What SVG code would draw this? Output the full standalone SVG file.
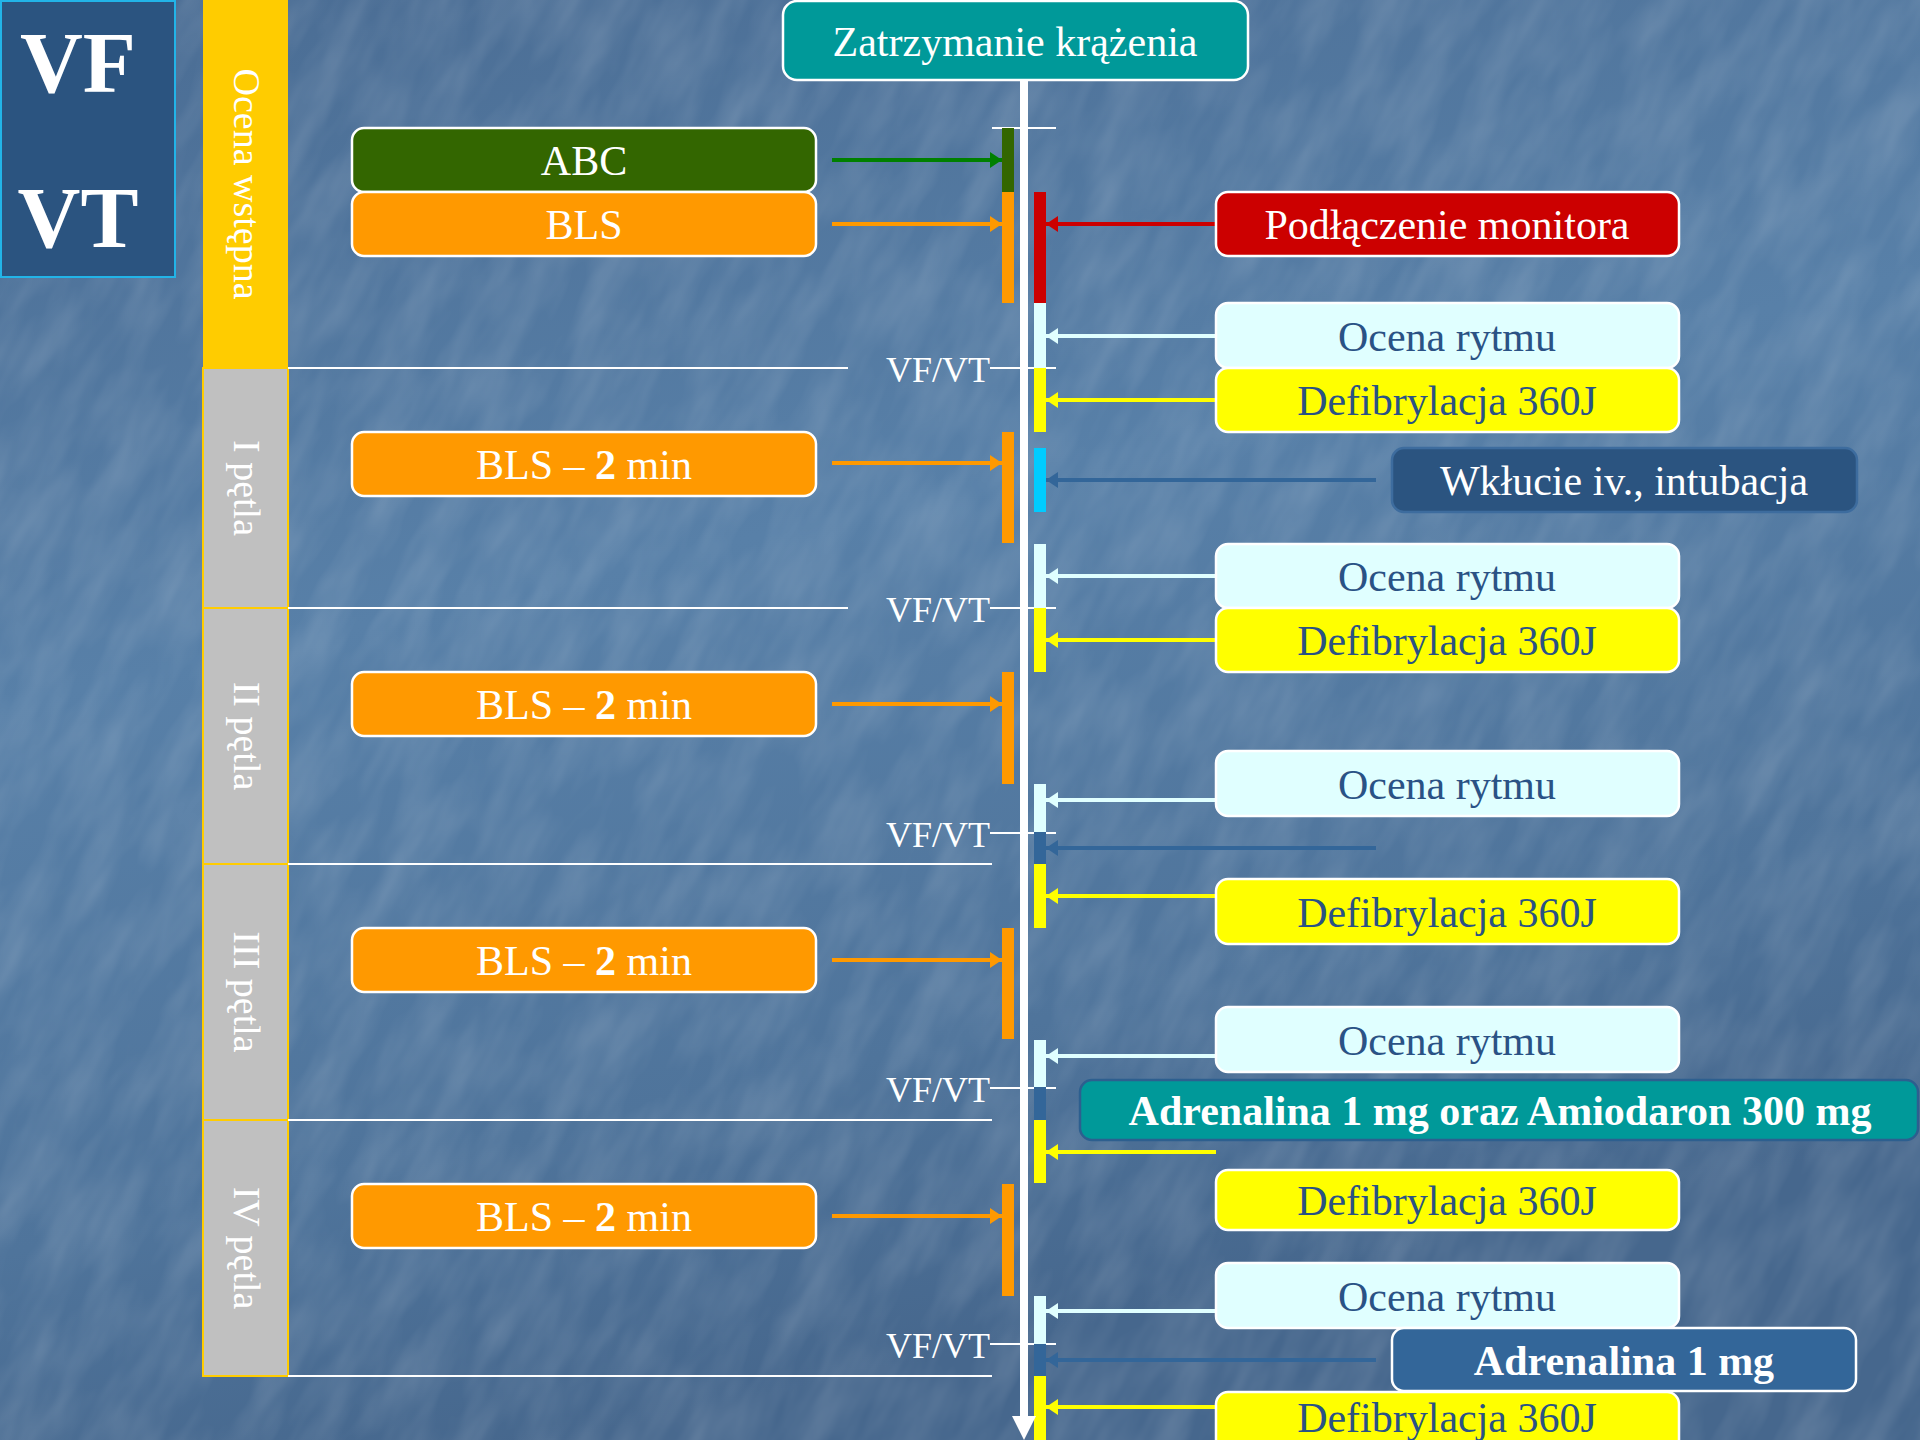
<svg xmlns="http://www.w3.org/2000/svg" width="1920" height="1440" viewBox="0 0 1920 1440">
<defs>
<linearGradient id="bg" x1="0" y1="0" x2="0.3" y2="1">
<stop offset="0" stop-color="#4a6c93"/>
<stop offset="0.45" stop-color="#5880a8"/>
<stop offset="0.8" stop-color="#4f749b"/>
<stop offset="1" stop-color="#46678d"/>
</linearGradient>
<filter id="tex" x="0" y="0" width="100%" height="100%">
<feTurbulence type="fractalNoise" baseFrequency="0.01 0.032" numOctaves="3" seed="7"/>
<feColorMatrix type="matrix" values="0 0 0 0 1  0 0 0 0 1  0 0 0 0 1  0 0 0 0.22 -0.07"/>
</filter>
<marker id="aG" markerUnits="userSpaceOnUse" markerWidth="12" markerHeight="16" refX="12" refY="8" orient="auto"><path d="M0,0 L12,8 L0,16 z" fill="#008000"/></marker>
<marker id="aO" markerUnits="userSpaceOnUse" markerWidth="12" markerHeight="16" refX="12" refY="8" orient="auto"><path d="M0,0 L12,8 L0,16 z" fill="#ff9900"/></marker>
<marker id="aR" markerUnits="userSpaceOnUse" markerWidth="12" markerHeight="16" refX="12" refY="8" orient="auto"><path d="M0,0 L12,8 L0,16 z" fill="#cc0000"/></marker>
<marker id="aC" markerUnits="userSpaceOnUse" markerWidth="12" markerHeight="16" refX="12" refY="8" orient="auto"><path d="M0,0 L12,8 L0,16 z" fill="#e0ffff"/></marker>
<marker id="aY" markerUnits="userSpaceOnUse" markerWidth="12" markerHeight="16" refX="12" refY="8" orient="auto"><path d="M0,0 L12,8 L0,16 z" fill="#ffff00"/></marker>
<marker id="aB" markerUnits="userSpaceOnUse" markerWidth="12" markerHeight="16" refX="12" refY="8" orient="auto"><path d="M0,0 L12,8 L0,16 z" fill="#336699"/></marker>
</defs>
<style>
text{font-family:"Liberation Serif","Times New Roman",serif;}
.box{stroke:#ffffff;stroke-width:2.5;}
.t{font-size:42px;text-anchor:middle;}
.w{fill:#ffffff;}
.d{fill:#2a5285;}
.b{font-weight:bold;}
.lbl{font-size:36px;fill:#ffffff;text-anchor:end;}
.side{font-size:38px;fill:#ffffff;text-anchor:middle;}
.sep{stroke:#ffffff;stroke-width:2;fill:none;}
.arr{stroke-width:4;fill:none;}
</style>
<rect width="1920" height="1440" fill="url(#bg)"/>
<g transform="translate(960,720) rotate(-62)">
<rect x="-1400" y="-1400" width="2800" height="2800" filter="url(#tex)"/>
</g>

<g id="vfvt">
<rect x="1" y="1" width="174" height="276" fill="#2b5480" stroke="#22b4e8" stroke-width="2"/>
<text x="78" y="92" font-size="87" font-weight="bold" fill="#ffffff" text-anchor="middle">VF</text>
<text x="78" y="247" font-size="87" font-weight="bold" fill="#ffffff" text-anchor="middle">VT</text>
</g>

<g id="phases">
<g id="phase0"><rect x="203" y="0" width="85" height="368" fill="#ffcc00"/>
<text class="side" transform="translate(234,184) rotate(90)">Ocena wstępna</text></g>
<g id="phase1"><rect x="203" y="368" width="85" height="240" fill="#c0c0c0" stroke="#ffcc00" stroke-width="2"/>
<text class="side" transform="translate(234,488) rotate(90)">I pętla</text></g>
<g id="phase2"><rect x="203" y="608" width="85" height="256" fill="#c0c0c0" stroke="#ffcc00" stroke-width="2"/>
<text class="side" transform="translate(234,736) rotate(90)">II pętla</text></g>
<g id="phase3"><rect x="203" y="864" width="85" height="256" fill="#c0c0c0" stroke="#ffcc00" stroke-width="2"/>
<text class="side" transform="translate(234,992) rotate(90)">III pętla</text></g>
<g id="phase4"><rect x="203" y="1120" width="85" height="256" fill="#c0c0c0" stroke="#ffcc00" stroke-width="2"/>
<text class="side" transform="translate(234,1248) rotate(90)">IV pętla</text></g>
</g>

<g id="separators">
<path class="sep" d="M992,128 H1056 M288,368 H848 M990,368 H1056 M288,608 H848 M990,608 H1056 M990,833 H1056 M288,864 H992 M990,1088 H1056 M288,1120 H992 M990,1344 H1056 M288,1376 H992"/>
<text class="lbl" x="990" y="382">VF/VT</text>
<text class="lbl" x="990" y="622">VF/VT</text>
<text class="lbl" x="990" y="847">VF/VT</text>
<text class="lbl" x="990" y="1102">VF/VT</text>
<text class="lbl" x="990" y="1358">VF/VT</text>
</g>

<g id="bars">
<rect x="1002" y="128" width="12" height="64" fill="#336600"/>
<rect x="1002" y="192" width="12" height="111" fill="#ff9900"/>
<rect x="1002" y="432" width="12" height="111" fill="#ff9900"/>
<rect x="1002" y="672" width="12" height="112" fill="#ff9900"/>
<rect x="1002" y="928" width="12" height="111" fill="#ff9900"/>
<rect x="1002" y="1184" width="12" height="112" fill="#ff9900"/>
<rect x="1034" y="192" width="12" height="111" fill="#cc0000"/>
<rect x="1034" y="303" width="12" height="65" fill="#e0ffff"/>
<rect x="1034" y="368" width="12" height="64" fill="#ffff00"/>
<rect x="1034" y="448" width="12" height="64" fill="#00ccff"/>
<rect x="1034" y="544" width="12" height="64" fill="#e0ffff"/>
<rect x="1034" y="608" width="12" height="64" fill="#ffff00"/>
<rect x="1034" y="784" width="12" height="48" fill="#e0ffff"/>
<rect x="1034" y="832" width="12" height="32" fill="#336699"/>
<rect x="1034" y="864" width="12" height="64" fill="#ffff00"/>
<rect x="1034" y="1040" width="12" height="47" fill="#e0ffff"/>
<rect x="1034" y="1087" width="12" height="33" fill="#336699"/>
<rect x="1034" y="1120" width="12" height="63" fill="#ffff00"/>
<rect x="1034" y="1296" width="12" height="48" fill="#e0ffff"/>
<rect x="1034" y="1344" width="12" height="32" fill="#336699"/>
<rect x="1034" y="1376" width="12" height="64" fill="#ffff00"/>
</g>

<g id="connectors">
<rect x="1020" y="80" width="8" height="1340" fill="#ffffff"/>
<polygon points="1012,1416 1036,1416 1024,1440" fill="#ffffff"/>
<line class="arr" x1="832" y1="160" x2="1002" y2="160" stroke="#008000" marker-end="url(#aG)"/>
<line class="arr" x1="832" y1="224" x2="1002" y2="224" stroke="#ff9900" marker-end="url(#aO)"/>
<line class="arr" x1="832" y1="463" x2="1002" y2="463" stroke="#ff9900" marker-end="url(#aO)"/>
<line class="arr" x1="832" y1="704" x2="1002" y2="704" stroke="#ff9900" marker-end="url(#aO)"/>
<line class="arr" x1="832" y1="960" x2="1002" y2="960" stroke="#ff9900" marker-end="url(#aO)"/>
<line class="arr" x1="832" y1="1216" x2="1002" y2="1216" stroke="#ff9900" marker-end="url(#aO)"/>
<line class="arr" x1="1216" y1="224" x2="1046" y2="224" stroke="#cc0000" marker-end="url(#aR)"/>
<line class="arr" x1="1216" y1="336" x2="1046" y2="336" stroke="#e0ffff" marker-end="url(#aC)"/>
<line class="arr" x1="1216" y1="400" x2="1046" y2="400" stroke="#ffff00" marker-end="url(#aY)"/>
<line class="arr" x1="1376" y1="480" x2="1046" y2="480" stroke="#336699" marker-end="url(#aB)"/>
<line class="arr" x1="1216" y1="576" x2="1046" y2="576" stroke="#e0ffff" marker-end="url(#aC)"/>
<line class="arr" x1="1216" y1="640" x2="1046" y2="640" stroke="#ffff00" marker-end="url(#aY)"/>
<line class="arr" x1="1216" y1="800" x2="1046" y2="800" stroke="#e0ffff" marker-end="url(#aC)"/>
<line class="arr" x1="1376" y1="848" x2="1046" y2="848" stroke="#336699" marker-end="url(#aB)"/>
<line class="arr" x1="1216" y1="896" x2="1046" y2="896" stroke="#ffff00" marker-end="url(#aY)"/>
<line class="arr" x1="1216" y1="1056" x2="1046" y2="1056" stroke="#e0ffff" marker-end="url(#aC)"/>
<line class="arr" x1="1216" y1="1152" x2="1046" y2="1152" stroke="#ffff00" marker-end="url(#aY)"/>
<line class="arr" x1="1216" y1="1311" x2="1046" y2="1311" stroke="#e0ffff" marker-end="url(#aC)"/>
<line class="arr" x1="1376" y1="1360" x2="1046" y2="1360" stroke="#336699" marker-end="url(#aB)"/>
<line class="arr" x1="1216" y1="1407" x2="1046" y2="1407" stroke="#ffff00" marker-end="url(#aY)"/>
</g>

<g id="start"><rect class="box" x="783" y="1" width="465" height="79" rx="14" fill="#009999"/>
<text class="t w" x="1015" y="56">Zatrzymanie krążenia</text></g>

<g id="abc"><rect class="box" x="352" y="128" width="464" height="64" rx="12" fill="#336600"/>
<text class="t w" x="584" y="175">ABC</text></g>
<g id="bls0"><rect class="box" x="352" y="192" width="464" height="64" rx="12" fill="#ff9900"/>
<text class="t w" x="584" y="239">BLS</text></g>
<g id="bls1"><rect class="box" x="352" y="432" width="464" height="64" rx="12" fill="#ff9900"/>
<text class="t w" x="584" y="479">BLS – <tspan class="b">2</tspan> min</text></g>
<g id="bls2"><rect class="box" x="352" y="672" width="464" height="64" rx="12" fill="#ff9900"/>
<text class="t w" x="584" y="719">BLS – <tspan class="b">2</tspan> min</text></g>
<g id="bls3"><rect class="box" x="352" y="928" width="464" height="64" rx="12" fill="#ff9900"/>
<text class="t w" x="584" y="975">BLS – <tspan class="b">2</tspan> min</text></g>
<g id="bls4"><rect class="box" x="352" y="1184" width="464" height="64" rx="12" fill="#ff9900"/>
<text class="t w" x="584" y="1231">BLS – <tspan class="b">2</tspan> min</text></g>

<g id="monitor"><rect class="box" x="1216" y="192" width="463" height="64" rx="12" fill="#cc0000"/>
<text class="t w" x="1447" y="239">Podłączenie monitora</text></g>
<g id="ocena1"><rect class="box" x="1216" y="303" width="463" height="65" rx="12" fill="#e0ffff"/>
<text class="t d" x="1447" y="351">Ocena rytmu</text></g>
<g id="defib1"><rect class="box" x="1216" y="368" width="463" height="64" rx="12" fill="#ffff00"/>
<text class="t d" x="1447" y="415">Defibrylacja 360J</text></g>
<g id="wklucie"><rect x="1392" y="448" width="465" height="64" rx="12" fill="#2b5480" stroke="#3d6c9e" stroke-width="2.5"/>
<text class="t w" x="1624" y="495">Wkłucie iv., intubacja</text></g>
<g id="ocena2"><rect class="box" x="1216" y="544" width="463" height="64" rx="12" fill="#e0ffff"/>
<text class="t d" x="1447" y="591">Ocena rytmu</text></g>
<g id="defib2"><rect class="box" x="1216" y="608" width="463" height="64" rx="12" fill="#ffff00"/>
<text class="t d" x="1447" y="655">Defibrylacja 360J</text></g>
<g id="ocena3"><rect class="box" x="1216" y="751" width="463" height="65" rx="12" fill="#e0ffff"/>
<text class="t d" x="1447" y="799">Ocena rytmu</text></g>
<g id="defib3"><rect class="box" x="1216" y="879" width="463" height="65" rx="12" fill="#ffff00"/>
<text class="t d" x="1447" y="927">Defibrylacja 360J</text></g>
<g id="ocena4"><rect class="box" x="1216" y="1007" width="463" height="65" rx="12" fill="#e0ffff"/>
<text class="t d" x="1447" y="1055">Ocena rytmu</text></g>
<g id="adramio"><rect x="1080" y="1080" width="838" height="60" rx="12" fill="#009999" stroke="#2d5f8f" stroke-width="2.5"/>
<text class="t w b" x="1500" y="1125">Adrenalina 1 mg oraz Amiodaron 300 mg</text></g>
<g id="defib4"><rect class="box" x="1216" y="1170" width="463" height="60" rx="12" fill="#ffff00"/>
<text class="t d" x="1447" y="1215">Defibrylacja 360J</text></g>
<g id="ocena5"><rect class="box" x="1216" y="1263" width="463" height="65" rx="12" fill="#e0ffff"/>
<text class="t d" x="1447" y="1311">Ocena rytmu</text></g>
<g id="adr1"><rect class="box" x="1392" y="1328" width="464" height="63" rx="12" fill="#336699"/>
<text class="t w b" x="1624" y="1375">Adrenalina 1 mg</text></g>
<g id="defib5"><rect class="box" x="1216" y="1392" width="463" height="64" rx="12" fill="#ffff00"/>
<text class="t d" x="1447" y="1432">Defibrylacja 360J</text></g>
</svg>
